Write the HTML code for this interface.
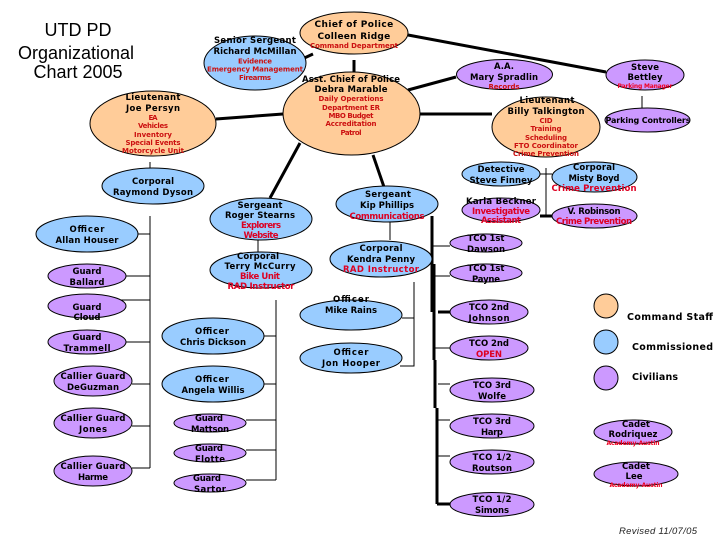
<!DOCTYPE html>
<html><head><meta charset="utf-8"><style>
html,body{margin:0;padding:0;background:#fff}
svg{display:block}
ellipse{stroke:#000;stroke-width:1}
.o{fill:#ffcc99}.b{fill:#99ccff}.p{fill:#cc99ff}
text{text-anchor:middle;font-family:"DejaVu Sans","Liberation Sans",sans-serif}
.n{font-size:9px;font-weight:bold;fill:#000;letter-spacing:.3px}
.s{font-size:8.5px;font-weight:bold;fill:#000}
.r{font-size:8.5px;font-weight:bold;fill:#dd0022}
.t{font-size:7px;font-weight:bold;fill:#cc1111}
.u{font-size:6px;font-weight:bold;fill:#ee0022}
.h{font-family:"Liberation Sans",sans-serif;font-size:18px;fill:#000}
.l{text-anchor:start;font-size:9.5px}
.k{fill:none;stroke:#000;stroke-width:3}
.f{fill:none;stroke:#000;stroke-width:1}
</style></head><body>
<svg width="720" height="540" viewBox="0 0 720 540" xmlns="http://www.w3.org/2000/svg">
<rect width="720" height="540" fill="#fff"/>
<!-- thick connectors -->
<path class="k" d="M408 35L606 72M354 60V72M216 119L283 114M408 90L456 77M420 114H492M300 143L270 198M373 155L384 187"/>
<path class="k" stroke-width="4" d="M300 60L313 54"/>
<path class="k" d="M432 216V312M434 264V360M435 360V408M437 408V504M438 312H450M437 504H450M540 216H552"/>
<!-- thin connectors -->
<path class="f" d="M150 162V168M150 216V468M138 234H150M126 276H150M120 300H150M126 342H150M132 384H150M132 426H150M132 468H150"/>
<path class="f" d="M258 239V252M276 300V480M264 336H276M264 384H276M246 420H276M246 450H276M246 480H276"/>
<path class="f" d="M390 222V240M414 282V366H400M402 318H414"/>
<path class="f" d="M433 246H450M434 276H450M434 348H450M438 384H450M438 420H450M437 456H450"/>
<path class="f" d="M546 168V216M540 174H552M642 96V108"/>
<!-- ellipses -->
<ellipse class="o" cx="354" cy="33" rx="54" ry="21"/>
<ellipse class="b" cx="255" cy="63" rx="51" ry="27"/>
<ellipse class="o" cx="153" cy="123.5" rx="63" ry="32.5"/>
<ellipse class="o" cx="351.5" cy="113.5" rx="68.5" ry="41.5"/>
<ellipse class="p" cx="504.5" cy="74.5" rx="48" ry="15"/>
<ellipse class="p" cx="645" cy="75" rx="39" ry="15"/>
<ellipse class="p" cx="647.5" cy="120" rx="42.5" ry="12"/>
<ellipse class="o" cx="546" cy="127" rx="54" ry="30"/>
<ellipse class="b" cx="501" cy="174" rx="39" ry="12"/>
<ellipse class="b" cx="594.5" cy="177" rx="42.5" ry="15"/>
<ellipse class="p" cx="501" cy="210" rx="39" ry="12"/>
<ellipse class="p" cx="594.5" cy="216" rx="42.5" ry="12"/>
<ellipse class="b" cx="153" cy="186" rx="51" ry="18"/>
<ellipse class="b" cx="87" cy="234" rx="51" ry="18"/>
<ellipse class="p" cx="87" cy="276" rx="39" ry="12"/>
<ellipse class="p" cx="87" cy="306" rx="39" ry="12"/>
<ellipse class="p" cx="87" cy="342" rx="39" ry="12"/>
<ellipse class="p" cx="93" cy="381" rx="39" ry="15"/>
<ellipse class="p" cx="93" cy="423" rx="39" ry="15"/>
<ellipse class="p" cx="93" cy="471" rx="39" ry="15"/>
<ellipse class="b" cx="261" cy="219" rx="51" ry="21"/>
<ellipse class="b" cx="261" cy="270" rx="51" ry="18"/>
<ellipse class="b" cx="387" cy="204" rx="51" ry="18"/>
<ellipse class="b" cx="381" cy="259" rx="51" ry="18"/>
<ellipse class="b" cx="351" cy="315" rx="51" ry="15"/>
<ellipse class="b" cx="351" cy="358" rx="51" ry="15"/>
<ellipse class="b" cx="213" cy="336" rx="51" ry="18"/>
<ellipse class="b" cx="213" cy="384" rx="51" ry="18"/>
<ellipse class="p" cx="210" cy="423" rx="36" ry="9"/>
<ellipse class="p" cx="210" cy="453" rx="36" ry="9"/>
<ellipse class="p" cx="210" cy="483" rx="36" ry="9"/>
<ellipse class="p" cx="486" cy="243" rx="36" ry="9"/>
<ellipse class="p" cx="486" cy="273" rx="36" ry="9"/>
<ellipse class="p" cx="489" cy="312" rx="39" ry="12"/>
<ellipse class="p" cx="489" cy="348" rx="39" ry="12"/>
<ellipse class="p" cx="492" cy="390" rx="42" ry="12"/>
<ellipse class="p" cx="492" cy="426" rx="42" ry="12"/>
<ellipse class="p" cx="492" cy="462" rx="42" ry="12"/>
<ellipse class="p" cx="492" cy="504.5" rx="42" ry="12"/>
<ellipse class="o" cx="606" cy="306" rx="12" ry="12"/>
<ellipse class="b" cx="606" cy="342" rx="12" ry="12"/>
<ellipse class="p" cx="606" cy="378" rx="12" ry="12"/>
<ellipse class="p" cx="633" cy="432" rx="39" ry="12"/>
<ellipse class="p" cx="636" cy="474" rx="42" ry="12"/>
<!-- title -->
<text class="h" x="78" y="36">UTD PD</text>
<text class="h" x="76" y="59">Organizational</text>
<text class="h" x="78" y="78">Chart 2005</text>
<!-- labels -->
<text class="n" x="354" y="27" textLength="79">Chief of Police</text>
<text class="n" x="354" y="39" textLength="73">Colleen Ridge</text>
<text class="t" x="354" y="48" textLength="88">Command Department</text>
<text class="s" x="255" y="43" textLength="82">Senior Sergeant</text>
<text class="s" x="255" y="54" textLength="83">Richard McMillan</text>
<text class="t" x="255" y="63.5" textLength="34">Evidence</text>
<text class="t" x="255" y="71.5" textLength="96">Emergency Management</text>
<text class="t" x="255" y="80" textLength="32">Firearms</text>
<text class="s" x="153" y="100" textLength="55">Lieutenant</text>
<text class="s" x="153" y="111" textLength="54">Joe Persyn</text>
<text class="t" x="153" y="120" textLength="9">EA</text>
<text class="t" x="153" y="128" textLength="30">Vehicles</text>
<text class="t" x="153" y="137" textLength="38">Inventory</text>
<text class="t" x="153" y="145" textLength="55">Special Events</text>
<text class="t" x="153" y="153" textLength="62">Motorcycle Unit</text>
<text class="s" x="351" y="82" textLength="98">Asst. Chief of Police</text>
<text class="s" x="351" y="92" textLength="73">Debra Marable</text>
<text class="t" x="351" y="101" textLength="65">Daily Operations</text>
<text class="t" x="351" y="110" textLength="58">Department ER</text>
<text class="t" x="351" y="118" textLength="45">MBO Budget</text>
<text class="t" x="351" y="126" textLength="51">Accreditation</text>
<text class="t" x="351" y="135" textLength="21">Patrol</text>
<text class="s" x="504" y="69" textLength="20">A.A.</text>
<text class="s" x="504" y="80" textLength="68">Mary Spradlin</text>
<text class="t" x="504" y="89" textLength="31">Records</text>
<text class="s" x="645" y="70" textLength="28">Steve</text>
<text class="s" x="645" y="80" textLength="35">Bettley</text>
<text class="u" x="645" y="88" textLength="55">Parking Manager</text>
<text class="s" x="648" y="123" textLength="85" style="font-size:8px">Parking Controllers</text>
<text class="s" x="547" y="103" textLength="55">Lieutenant</text>
<text class="s" x="546" y="114" textLength="77">Billy Talkington</text>
<text class="t" x="546" y="123" textLength="13">CID</text>
<text class="t" x="546" y="131" textLength="31">Training</text>
<text class="t" x="546" y="140" textLength="42">Scheduling</text>
<text class="t" x="546" y="148" textLength="64">FTO Coordinator</text>
<text class="t" x="546" y="156" textLength="66">Crime Prevention</text>
<text class="s" x="501" y="172" textLength="47">Detective</text>
<text class="s" x="501" y="183" textLength="63">Steve Finney</text>
<text class="s" x="594" y="170" textLength="42">Corporal</text>
<text class="s" x="594" y="181" textLength="51">Misty Boyd</text>
<text class="r" x="594" y="191" textLength="85">Crime Prevention</text>
<text class="s" x="501" y="204" textLength="70">Karla Beckner</text>
<text class="r" x="501" y="214" textLength="58">Investigative</text>
<text class="r" x="501" y="223" textLength="40">Assistant</text>
<text class="s" x="594" y="214" textLength="53">V. Robinson</text>
<text class="r" x="594" y="224" textLength="76">Crime Prevention</text>
<text class="s" x="153" y="184" textLength="42">Corporal</text>
<text class="s" x="153" y="195" textLength="80">Raymond Dyson</text>
<text class="s" x="87" y="232" textLength="35">Officer</text>
<text class="s" x="87" y="243" textLength="63">Allan Houser</text>
<text class="s" x="87" y="274" textLength="29">Guard</text>
<text class="s" x="87" y="285" textLength="35">Ballard</text>
<text class="s" x="87" y="310" textLength="29">Guard</text>
<text class="s" x="87" y="320" textLength="27">Cloud</text>
<text class="s" x="87" y="340" textLength="29">Guard</text>
<text class="s" x="87" y="351" textLength="47">Trammell</text>
<text class="s" x="93" y="379" textLength="65">Callier Guard</text>
<text class="s" x="93" y="390" textLength="52">DeGuzman</text>
<text class="s" x="93" y="421" textLength="65">Callier Guard</text>
<text class="s" x="93" y="432" textLength="28">Jones</text>
<text class="s" x="93" y="469" textLength="65">Callier Guard</text>
<text class="s" x="93" y="480" textLength="30">Harme</text>
<text class="s" x="260" y="208" textLength="45">Sergeant</text>
<text class="s" x="260" y="218" textLength="70">Roger Stearns</text>
<text class="r" x="261" y="228" textLength="40">Explorers</text>
<text class="r" x="261" y="238" textLength="35">Website</text>
<text class="s" x="258" y="259" textLength="42">Corporal</text>
<text class="s" x="260" y="269" textLength="71">Terry McCurry</text>
<text class="r" x="260" y="279" textLength="40">Bike Unit</text>
<text class="r" x="261" y="289" textLength="67">RAD Instructor</text>
<text class="s" x="388" y="197" textLength="46">Sergeant</text>
<text class="s" x="387" y="208" textLength="54">Kip Phillips</text>
<text class="r" x="387" y="219" textLength="75">Communications</text>
<text class="s" x="381" y="251" textLength="43">Corporal</text>
<text class="s" x="381" y="262" textLength="68">Kendra Penny</text>
<text class="r" x="381" y="272" textLength="76">RAD Instructor</text>
<text class="s" x="351" y="302" textLength="36">Officer</text>
<text class="s" x="351" y="313" textLength="52">Mike Rains</text>
<text class="s" x="351" y="355" textLength="35">Officer</text>
<text class="s" x="351" y="366" textLength="58">Jon Hooper</text>
<text class="s" x="212" y="334" textLength="34">Officer</text>
<text class="s" x="213" y="345" textLength="66">Chris Dickson</text>
<text class="s" x="212" y="382" textLength="34">Officer</text>
<text class="s" x="213" y="393" textLength="63">Angela Willis</text>
<text class="s" x="209" y="421" textLength="28">Guard</text>
<text class="s" x="210" y="432" textLength="38">Mattson</text>
<text class="s" x="209" y="451" textLength="28">Guard</text>
<text class="s" x="210" y="462" textLength="30">Flotte</text>
<text class="s" x="207" y="481" textLength="28">Guard</text>
<text class="s" x="210" y="492" textLength="32">Sartor</text>
<text class="s" x="486" y="241" textLength="37">TCO 1st</text>
<text class="s" x="486" y="252" textLength="38">Dawson</text>
<text class="s" x="486" y="271" textLength="37">TCO 1st</text>
<text class="s" x="486" y="282" textLength="28">Payne</text>
<text class="s" x="489" y="310" textLength="40">TCO 2nd</text>
<text class="s" x="489" y="321" textLength="41">Johnson</text>
<text class="s" x="489" y="346" textLength="40">TCO 2nd</text>
<text class="r" x="489" y="357" textLength="26">OPEN</text>
<text class="s" x="492" y="388" textLength="38">TCO 3rd</text>
<text class="s" x="492" y="399" textLength="28">Wolfe</text>
<text class="s" x="492" y="424" textLength="38">TCO 3rd</text>
<text class="s" x="492" y="435" textLength="22">Harp</text>
<text class="s" x="492" y="460" textLength="39">TCO 1/2</text>
<text class="s" x="492" y="471" textLength="40">Routson</text>
<text class="s" x="492" y="502" textLength="39">TCO 1/2</text>
<text class="s" x="492" y="513" textLength="34">Simons</text>
<text class="s l" x="627" y="320" textLength="86">Command Staff</text>
<text class="s l" x="632" y="350" textLength="81">Commissioned</text>
<text class="s l" x="632" y="380" textLength="46">Civilians</text>
<text class="s" x="636" y="427" textLength="28">Cadet</text>
<text class="s" x="633" y="437" textLength="49">Rodriquez</text>
<text class="u" x="633" y="445" textLength="53">Academy-Austin</text>
<text class="s" x="636" y="469" textLength="28">Cadet</text>
<text class="s" x="634" y="479" textLength="17">Lee</text>
<text class="u" x="636" y="487" textLength="53">Academy-Austin</text>
<text x="658" y="534" style="font-family:'Liberation Sans',sans-serif;font-size:9.5px;font-style:italic;fill:#222" textLength="78">Revised 11/07/05</text>
</svg>
</body></html>
